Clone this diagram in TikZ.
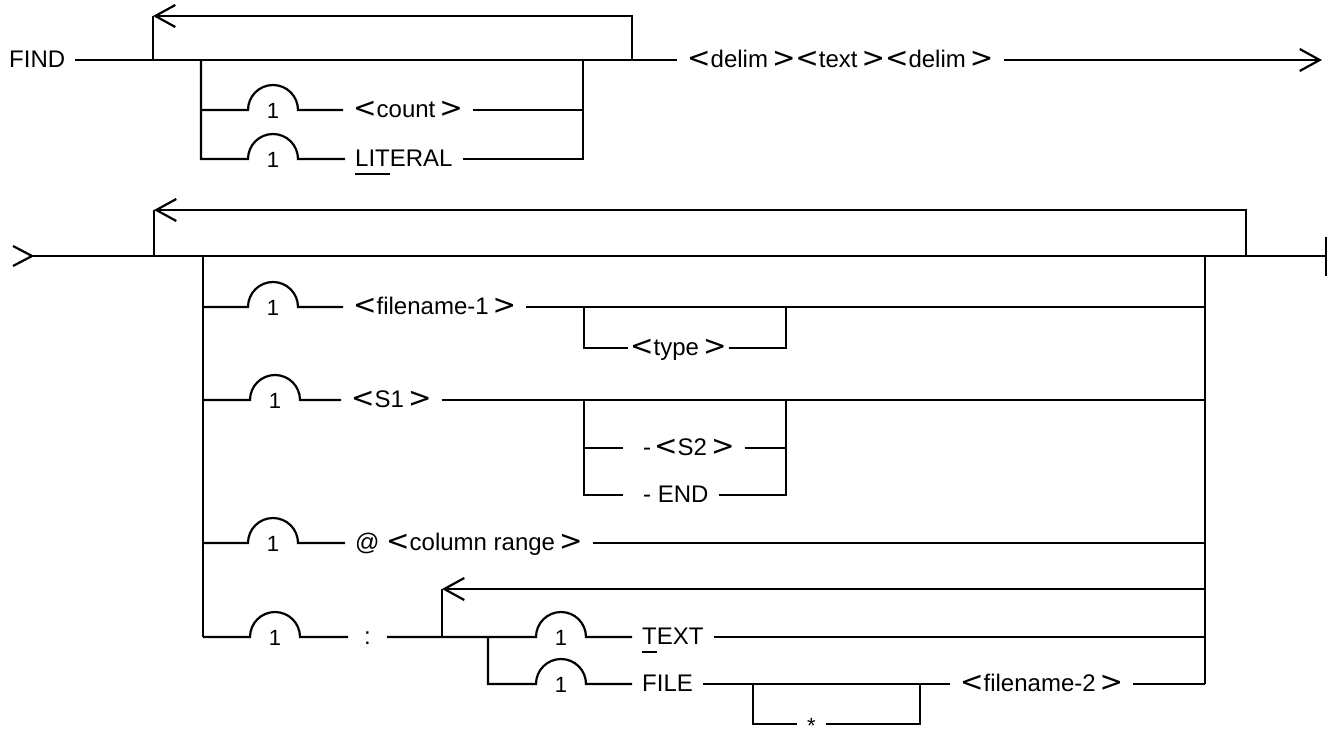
\documentclass[tikz,border=0pt]{standalone}
\usepackage{fontspec}
\setmainfont{Liberation Sans}
\newfontfamily\brkfont{DejaVu Sans}
\usetikzlibrary{arrows.meta}
\newcommand\LT{{\brkfont\fontsize{28}{28}\selectfont<}}
\newcommand\GT{{\brkfont\fontsize{28}{28}\selectfont>}}
\newsavebox\ulbox
\newcommand\ulx[1]{\sbox\ulbox{#1}\rlap{\rule[-8.5pt]{\wd\ulbox}{2pt}}\usebox\ulbox}
\begin{document}
\begin{tikzpicture}[x=1pt,y=-1pt,
  rail/.style={line width=2.2pt},
  lbl/.style={font=\fontsize{24}{28}\selectfont, anchor=west, inner xsep=10pt, inner ysep=0pt, text height=17pt, text depth=2pt},
  tight/.style={lbl, inner xsep=2pt},
  one/.style={font=\fontsize{22}{24}\selectfont, inner sep=0pt, text height=15.8pt, text depth=0pt},
  looparrow/.style={-{Straight Barb[length=20pt,width=22pt]}}]
\useasboundingbox[fill=white] (0,0) rectangle (1328,738);

% ---------------- top section ----------------
\node[lbl] (find) at (-1,60) {FIND};
\coordinate (l1b) at (153,60); \coordinate (l1t) at (153,16);
\coordinate (r1b) at (632,60); \coordinate (r1t) at (632,16);
\coordinate (i1a) at (201,60); \coordinate (i1b) at (583,60);
\coordinate (c1) at (201,110); \coordinate (c2) at (201,159);
\coordinate (d1) at (583,110); \coordinate (d2) at (583,159);
\coordinate (bp1) at (248,110); \coordinate (bp2) at (248,159);
\node[one] (n1) at (273,111) {1};
\node[one] (n2) at (273,160) {1};
\node[lbl] (count) at (343,110) {\LT count\,\GT};
\node[lbl] (lit) at (345,159) {\ulx{LIT}ERAL};
\node[lbl] (delim) at (677,60) {\LT delim\,\GT\LT text\,\GT\LT delim\,\GT};
\coordinate (endarr) at (1322,60);

\draw[rail] (find.east) -- (l1b) -- (r1b) -- (delim.west);
\draw[rail,looparrow] (r1b) -- (r1t) -- (l1t);
\draw[rail] (l1b) -- (l1t);
\draw[rail,looparrow] (delim.east) -- (endarr);
\draw[rail] (i1a) -- (c2) -- (bp2) arc[start angle=180,end angle=360,radius=25] -- (lit.west);
\draw[rail] (c1) -- (bp1) arc[start angle=180,end angle=360,radius=25] -- (count.west);
\draw[rail] (count.east) -- (d1);
\draw[rail] (lit.east) -- (d2) -- (i1b);

% ---------------- bottom section ----------------
\coordinate (sta) at (13,246); \coordinate (st) at (32,256); \coordinate (stb) at (13,266);
\coordinate (l2b) at (154,256); \coordinate (l2t) at (154,210);
\coordinate (r2b) at (1246,256); \coordinate (r2t) at (1246,210);
\coordinate (endbar) at (1326,256);
\coordinate (eb1) at (1326,237); \coordinate (eb2) at (1326,276);
\coordinate (i2a) at (203,256); \coordinate (i2r) at (1205,256);

\draw[rail] (sta) -- (st) -- (stb);
\draw[rail] (st) -- (endbar);
\draw[rail] (eb1) -- (eb2);
\draw[rail,looparrow] (r2b) -- (r2t) -- (l2t);
\draw[rail] (l2b) -- (l2t);
\draw[rail] (i2a) -- (203,637);
\draw[rail] (i2r) -- (1205,684);

% row filename-1
\node[one] (n3) at (273,308) {1};
\node[lbl] (fn1) at (343,307) {\LT filename-1\,\GT};
\node[tight] (type) at (628,348) {\LT type\,\GT};
\draw[rail] (203,307) -- (248,307) arc[start angle=180,end angle=360,radius=25] -- (fn1.west);
\draw[rail] (fn1.east) -- (1205,307);
\draw[rail] (584,307) -- (584,348) -- (type.west);
\draw[rail] (type.east) -- (786,348) -- (786,307);

% row S1
\node[one] (n4) at (275,401) {1};
\node[lbl] (s1) at (341,400) {\LT S1\,\GT};
\node[lbl] (s2) at (623,448) {\kern10pt-\kern3pt\LT S2\,\GT};
\node[lbl] (endw) at (623,495) {\kern10pt- END};
\draw[rail] (203,400) -- (250,400) arc[start angle=180,end angle=360,radius=25] -- (s1.west);
\draw[rail] (s1.east) -- (1205,400);
\draw[rail] (584,400) -- (584,495) -- (endw.west);
\draw[rail] (584,448) -- (s2.west);
\draw[rail] (s2.east) -- (786,448);
\draw[rail] (endw.east) -- (786,495) -- (786,400);

% row column range
\node[one] (n5) at (273,544) {1};
\node[lbl] (col) at (345,543) {@ \LT column range\,\GT};
\draw[rail] (203,543) -- (248,543) arc[start angle=180,end angle=360,radius=25] -- (col.west);
\draw[rail] (col.east) -- (1205,543);

% row colon
\node[one] (n6) at (275,638) {1};
\node[lbl,inner xsep=16pt] (colon) at (348,637) {:};
\coordinate (il) at (442,637); \coordinate (ilt) at (442,589);
\coordinate (irt) at (1205,589);
\coordinate (fb) at (488,637);
\node[one] (n7) at (561,638) {1};
\node[one] (n8) at (561,685) {1};
\node[lbl] (txt) at (632,637) {\ulx{T}EXT};
\node[lbl] (file) at (632,684) {FILE};
\node[lbl] (fn2) at (950,684) {\LT filename-2\,\GT};
\node[lbl,font=\fontsize{22}{24}\selectfont,text height=18.4pt,text depth=0pt,inner xsep=10pt] (star) at (797,724) {*};
\coordinate (sj1) at (753,684); \coordinate (sj2) at (920,684);

\draw[rail] (203,637) -- (250,637) arc[start angle=180,end angle=360,radius=25] -- (colon.west);
\draw[rail] (colon.east) -- (il) -- (fb) -- (536,637) arc[start angle=180,end angle=360,radius=25] -- (txt.west);
\draw[rail] (txt.east) -- (1205,637);
\draw[rail,looparrow] (irt) -- (ilt);
\draw[rail] (il) -- (ilt);
\draw[rail] (fb) -- (488,684) -- (536,684) arc[start angle=180,end angle=360,radius=25] -- (file.west);
\draw[rail] (file.east) -- (sj1) -- (sj2) -- (fn2.west);
\draw[rail] (fn2.east) -- (1205,684);
\draw[rail] (sj1) -- (753,724) -- (star.west);
\draw[rail] (star.east) -- (920,724) -- (sj2);
\end{tikzpicture}
\end{document}
